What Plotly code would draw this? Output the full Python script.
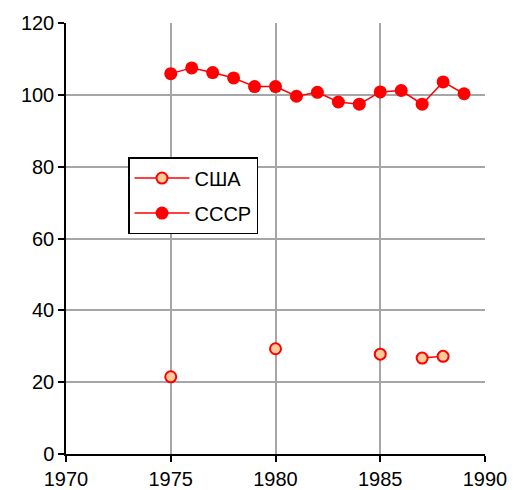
import plotly.graph_objects as go

years = list(range(1975, 1990))
ussr = [105.9, 107.5, 106.2, 104.7, 102.3, 102.3, 99.6, 100.7, 98.0, 97.4, 100.8, 101.2, 97.4, 103.6, 100.3]
usa_years = list(range(1975, 1989))
usa = [21.5, None, None, None, None, 29.3, None, None, None, None, 27.8, None, 26.7, 27.2]

x_ticks = [1970, 1975, 1980, 1985, 1990]
y_ticks = [0, 20, 40, 60, 80, 100, 120]

fig = go.Figure()
fig.add_trace(go.Scatter(
    x=usa_years, y=usa, name="США", mode="lines+markers",
    connectgaps=False, legendgroup="a",
    line=dict(color="#ff0000", width=1.5),
    marker=dict(symbol="circle", size=11, color="#ffcc99",
                line=dict(color="#ff0000", width=2)),
))
fig.add_trace(go.Scatter(
    x=years, y=ussr, name="СССР", mode="lines+markers", legendgroup="b",
    line=dict(color="#ff0000", width=1.5),
    marker=dict(symbol="circle", size=13, color="#ff0000",
                line=dict(color="#ff0000", width=0)),
))

fig.update_layout(
    template="none",
    width=518, height=490,
    margin=dict(l=66, r=33, t=23, b=36, autoexpand=False),
    plot_bgcolor="white", paper_bgcolor="white",
    font=dict(family="Liberation Sans, Arial, sans-serif", size=20, color="black"),
    showlegend=True,
    legend=dict(x=0.148, y=0.689, xanchor="left", yanchor="top",
                bgcolor="white", bordercolor="black", borderwidth=1.5,
                font=dict(size=20), itemwidth=55,
                traceorder="grouped", tracegroupgap=6),
)
fig.update_xaxes(
    range=[1970, 1990], tickvals=x_ticks, ticktext=[str(v) for v in x_ticks],
    showgrid=True, gridcolor="#a6a6a6", gridwidth=1.5, automargin=False,
    showline=True, linecolor="black", linewidth=1.5,
    ticks="outside", ticklen=6, tickcolor="black", tickwidth=1.5, zeroline=False,
)
fig.update_yaxes(
    range=[0, 120], tickvals=y_ticks, ticktext=[str(v) for v in y_ticks],
    showgrid=True, gridcolor="#a6a6a6", gridwidth=1.5, automargin=False,
    showline=True, linecolor="black", linewidth=1.5,
    ticks="outside", ticklen=6, tickcolor="black", tickwidth=1.5, zeroline=False,
)

fig.write_html("out.html", config={"displayModeBar": False},
               post_script="document.body.style.margin='0';")
